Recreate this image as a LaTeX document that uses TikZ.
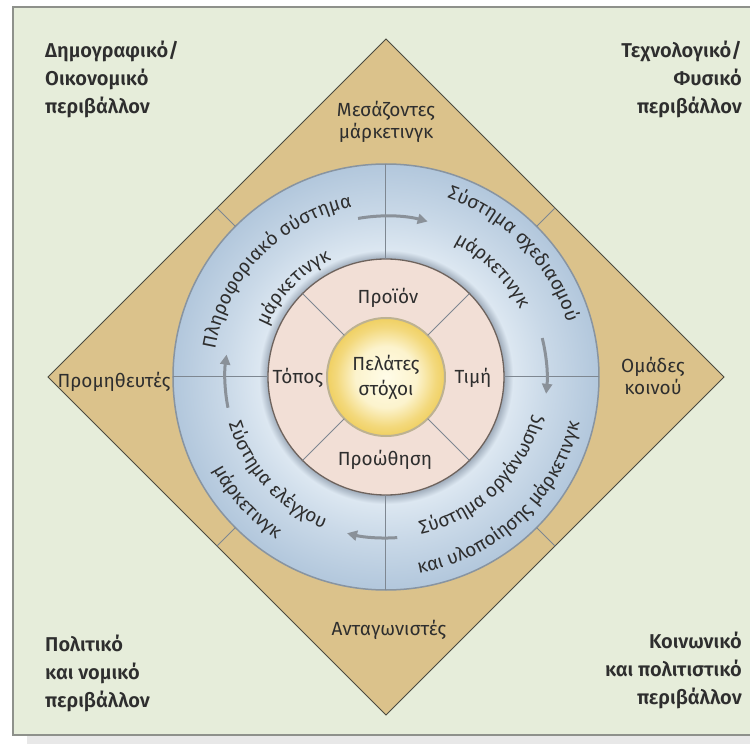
\documentclass[tikz,border=0pt]{standalone}
\usepackage{fontspec}
\setmainfont{Fira Sans}
\newfontfamily\headfont{Fira Sans SemiBold}
\usetikzlibrary{shapes.geometric,arrows.meta,decorations.text}

\definecolor{envgreen}{HTML}{E6EDDA}
\definecolor{envline}{HTML}{8E918B}
\definecolor{bandtan}{HTML}{DBC28B}
\definecolor{bandline}{HTML}{4B4A40}
\definecolor{ringout}{HTML}{B2C7DC}
\definecolor{ringin}{HTML}{DCE7F1}
\definecolor{ringdark}{HTML}{9CA9B8}
\definecolor{ringedge}{HTML}{8894A1}
\definecolor{mixpink}{HTML}{F2DFD6}
\definecolor{mixedge}{HTML}{6E635D}
\definecolor{corein}{HTML}{FFFCE8}
\definecolor{coreout}{HTML}{F0D062}
\definecolor{coreedge}{HTML}{BDB292}
\definecolor{inkgray}{HTML}{2E2E2E}
\definecolor{rulegray}{HTML}{7E8791}
\definecolor{flowgray}{HTML}{8A9199}

% radial shadings: 25bp is the rim of the shaded circle
\pgfdeclareradialshading{ringshade}{\pgfpoint{0bp}{0bp}}{%
  color(0bp)=(ringdark); color(13.8bp)=(ringdark); color(14.9bp)=(ringin);
  color(19bp)=(ringin!55!ringout); color(25bp)=(ringout); color(50bp)=(ringout)}
\pgfdeclareradialshading{coreshade}{\pgfpoint{0bp}{0bp}}{%
  color(0bp)=(corein); color(13bp)=(corein!80!coreout);
  color(21bp)=(coreout!80!corein); color(25bp)=(coreout); color(50bp)=(coreout)}

\newcommand\ringfont{\fontsize{19}{22}\selectfont\color{inkgray}}

\begin{document}
\begin{tikzpicture}[x=1pt, y=1pt,
    corner/.style={font=\headfont\fontsize{20}{28}\selectfont, text=inkgray, inner sep=0pt},
    band/.style={font=\fontsize{19}{22}\selectfont, text=inkgray, align=center, inner sep=0pt},
    mixlabel/.style={font=\fontsize{19}{25}\selectfont, text=inkgray, align=center, inner sep=0pt},
    rule/.style={draw=rulegray, line width=1pt},
    flow/.style={draw=flowgray, line width=3pt, -{Triangle[length=10pt,width=10pt]}},
    disc/.style={circle, inner sep=0pt, outer sep=0pt}]
    \useasboundingbox (-386,-367) rectangle (364,377);
    \fill[white] (-386,-367) rectangle (364,377);
    \fill[black!9] (-359,-358) rectangle (364,-367);
    \draw[envline, fill=envgreen, line width=1.2pt] (-373,-358) rectangle (372,370);

    % the four rings, outside in
    \node[diamond, aspect=1, minimum width=676pt, minimum height=676pt, inner sep=0pt, outer sep=0pt,
        fill=bandtan, draw=bandline, line width=1pt] (env) at (0,0) {};
    \node[disc, minimum size=426pt, shade, shading=ringshade, draw=ringedge, line width=1.5pt] (ring) at (0,0) {};
    \node[disc, minimum size=236pt, fill=mixpink, draw=mixedge, line width=1.3pt] (mix) at (0,0) {};
    \node[disc, minimum size=118pt, shade, shading=coreshade, draw=coreedge, line width=2pt] (core) at (0,0) {};

    % dividers
    \draw[rule] (ring.45) -- (env.45);
    \draw[rule] (ring.135) -- (env.135);
    \draw[rule] (ring.225) -- (env.225);
    \draw[rule] (ring.315) -- (env.315);
    \draw[rule] (mix.0) -- (ring.0);
    \draw[rule] (mix.90) -- (ring.90);
    \draw[rule] (mix.180) -- (ring.180);
    \draw[rule] (mix.270) -- (ring.270);
    \draw[rule] (core.45) -- (mix.45);
    \draw[rule] (core.135) -- (mix.135);
    \draw[rule] (core.225) -- (mix.225);
    \draw[rule] (core.315) -- (mix.315);

    % flow round the ring
    \draw[flow] (100:161) arc[start angle=100, end angle=75, radius=161];
    \draw[flow] (14:161) arc[start angle=14, end angle=-6, radius=161];
    \draw[flow] (-86:161) arc[start angle=-86, end angle=-104, radius=161];
    \draw[flow] (191:161) arc[start angle=191, end angle=172, radius=161];

    % ring texts
    \path[decorate, decoration={text along path, text align=center, text={|\ringfont|Πληροφοριακό σύστημα}}]
        (196:173) arc[start angle=196, end angle=76, radius=173];
    \path[decorate, decoration={text along path, text align=center, text={|\ringfont|μάρκετινγκ}}]
        (196:129) arc[start angle=196, end angle=76, radius=129];
    \path[decorate, decoration={text along path, text align=center, text={|\ringfont|Σύστημα σχεδιασμού}}]
        (104:189) arc[start angle=104, end angle=-16, radius=189];
    \path[decorate, decoration={text along path, text align=center, text={|\ringfont|μάρκετινγκ}}]
        (105:150) arc[start angle=105, end angle=-15, radius=150];
    \path[decorate, decoration={text along path, text align=center, text={|\ringfont|Σύστημα οργάνωσης}}]
        (-106:161) arc[start angle=-106, end angle=14, radius=161];
    \path[decorate, decoration={text along path, text align=center, text={|\ringfont|και υλοποίησης μάρκετινγκ}}]
        (-107:199) arc[start angle=-107, end angle=13, radius=199];
    \path[decorate, decoration={text along path, text align=center, text={|\ringfont|Σύστημα ελέγχου}}]
        (162:164) arc[start angle=162, end angle=282, radius=164];
    \path[decorate, decoration={text along path, text align=center, text={|\ringfont|μάρκετινγκ}}]
        (162:196) arc[start angle=162, end angle=282, radius=196];

    % centre and mix
    \node[mixlabel] (target) at (0,0) {Πελάτες\\στόχοι};
    \node[mixlabel] (product) at (2,79) {Προϊόν};
    \node[mixlabel] (price) at (87,-1) {Τιμή};
    \node[mixlabel] (place) at (-88,-1) {Τόπος};
    \node[mixlabel] (promo) at (-1,-83) {Προώθηση};

    % actors in the band
    \node[band] (agents) at (0,255) {Μεσάζοντες\\μάρκετινγκ};
    \node[band] (publics) at (267,1) {Ομάδες\\κοινού};
    \node[band] (suppliers) at (-272,-5) {Προμηθευτές};
    \node[band] (rivals) at (3,-253) {Ανταγωνιστές};

    % macro environment
    \node[corner, anchor=north west, align=left] (demo) at (-341,336) {Δημογραφικό/\\Οικονομικό\\περιβάλλον};
    \node[corner, anchor=north east, align=right] (tech) at (356,336) {Τεχνολογικό/\\Φυσικό\\περιβάλλον};
    \node[corner, anchor=north west, align=left] (poli) at (-341,-258) {Πολιτικό\\και νομικό\\περιβάλλον};
    \node[corner, anchor=north east, align=right] (soci) at (356,-255) {Κοινωνικό\\και πολιτιστικό\\περιβάλλον};
\end{tikzpicture}
\end{document}
